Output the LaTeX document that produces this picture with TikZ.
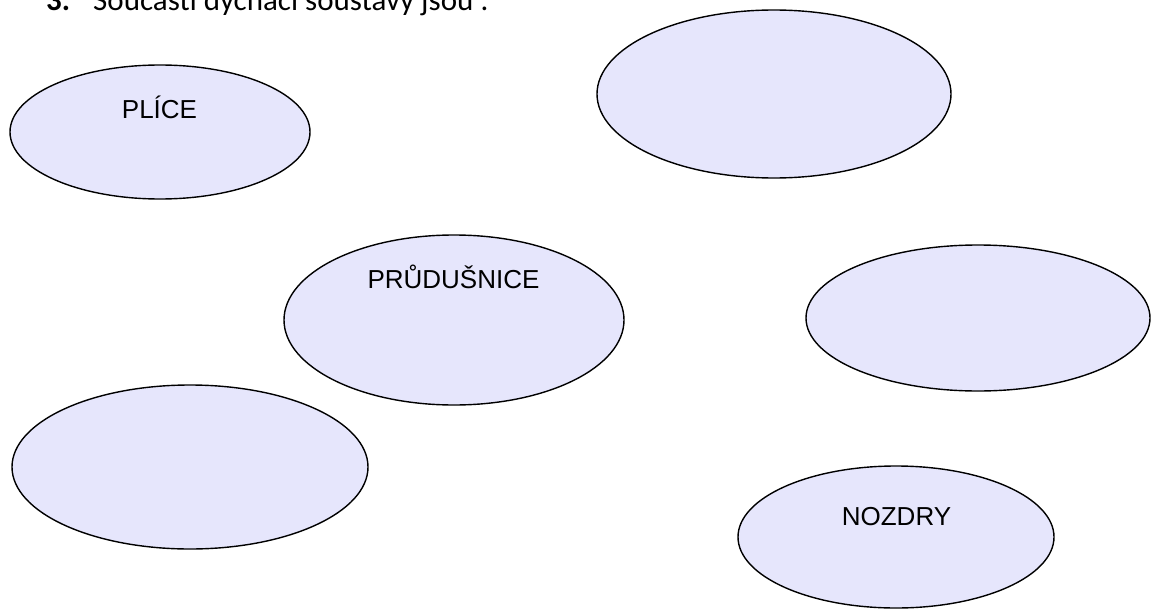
\documentclass[tikz,border=0pt]{standalone}
\usepackage{fontspec}
\setmainfont{Liberation Sans}
\newfontfamily\calibri{Carlito}
\usetikzlibrary{shapes.geometric}
\definecolor{ellfill}{RGB}{230,230,252}
\begin{document}
\begin{tikzpicture}[x=1pt,y=-1pt,
  oval/.style={draw=black,line width=1.4pt,fill=ellfill},
  lbl/.style={font=\fontsize{26}{30}\selectfont,text=black,anchor=base,inner sep=0pt},
  ttl/.style={anchor=base west,inner sep=0pt,font=\calibri\fontsize{31}{36}\selectfont}]
\useasboundingbox (0,0) rectangle (1151,610);
\clip (0,0) rectangle (1151,610);
% title
\node[ttl,font=\calibri\fontsize{31}{36}\selectfont\bfseries] (num) at (46,11) {3.};
\node[ttl] (title) at (93,11) {Součásti dýchací soustavy jsou :};
% ellipses
\draw[oval] (160,132) ellipse[x radius=150,y radius=67];
\draw[oval] (774,94) ellipse[x radius=177,y radius=84];
\draw[oval] (454,320) ellipse[x radius=170,y radius=85];
\draw[oval] (978,318) ellipse[x radius=172,y radius=73];
\draw[oval] (190,467) ellipse[x radius=178,y radius=82];
\draw[oval] (896,537) ellipse[x radius=158,y radius=71];
% labels
\node[lbl] (plice) at (159.5,118) {PLÍCE};
\node[lbl] (prud) at (453.5,288) {PRŮDUŠNICE};
\node[lbl] (nozdry) at (896.5,525) {NOZDRY};
\end{tikzpicture}
\end{document}
